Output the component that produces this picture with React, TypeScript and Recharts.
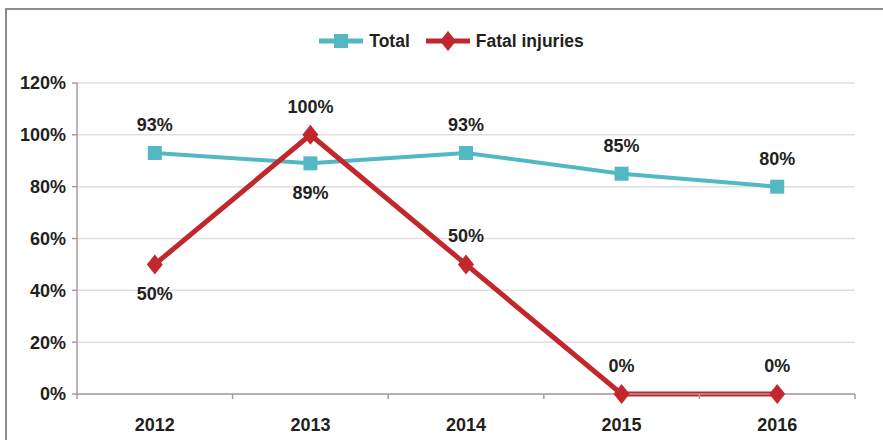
import React from "react";
import {
  LineChart,
  Line,
  XAxis,
  YAxis,
  CartesianGrid,
  Legend,
  LabelList,
} from "recharts";

const years = ["2012", "2013", "2014", "2015", "2016"];
const totalValues = [93, 89, 93, 85, 80];
const fatalValues = [50, 100, 50, 0, 0];
const yTicks = [0, 20, 40, 60, 80, 100, 120];

const totalLabelSide = ["top", "bottom", "top", "top", "top"];
const fatalLabelSide = ["bottom", "top", "top", "top", "top"];

const TEAL = "#52b8c2";
const RED = "#c1272d";
const TEXT = "#231f20";
const AXIS = "#a89e9e";
const GRID = "#e3dede";
const FONT = "'Liberation Sans', Arial, sans-serif";

const data = years.map((y, i) => ({
  year: y,
  total: totalValues[i],
  fatal: fatalValues[i],
}));

const W = 883;
const H = 440;
const X_H = 30;
const M = { top: 83, right: 28, bottom: 46 - X_H, left: 0 };
const Y_W = 77;
const BAND = (W - M.left - Y_W - M.right) / years.length;

const SquareDot = (props: any) => {
  const { cx, cy } = props;
  if (cx == null || cy == null) return null;
  return <rect x={cx - 7} y={cy - 7} width={14} height={14} fill={TEAL} />;
};

const DiamondDot = (props: any) => {
  const { cx, cy } = props;
  if (cx == null || cy == null) return null;
  return (
    <polygon
      points={`${cx},${cy - 10} ${cx + 8},${cy} ${cx},${cy + 10} ${cx - 8},${cy}`}
      fill={RED}
    />
  );
};

const makeLabel = (sides: string[]) => (props: any) => {
  const { x, y, value, index } = props;
  const side = sides[index];
  const ty = side === "top" ? y - 22 : y + 36;
  return (
    <text
      x={x}
      y={ty}
      textAnchor="middle"
      fill={TEXT}
      fontSize={18}
      fontWeight="bold"
      fontFamily={FONT}
    >
      {`${value}%`}
    </text>
  );
};

const XTick = (props: any) => {
  const { x, y, payload, index } = props;
  const isLast = index === years.length - 1;
  return (
    <g>
      <line x1={x - BAND / 2} y1={y} x2={x - BAND / 2} y2={y + 5} stroke={AXIS} strokeWidth={1.5} />
      {isLast && (
        <line x1={x + BAND / 2} y1={y} x2={x + BAND / 2} y2={y + 5} stroke={AXIS} strokeWidth={1.5} />
      )}
      <text
        x={x}
        y={y + 37}
        textAnchor="middle"
        fill={TEXT}
        fontSize={18}
        fontWeight="bold"
        fontFamily={FONT}
      >
        {payload.value}
      </text>
    </g>
  );
};

const LegendContent = () => (
  <div
    style={{
      display: "flex",
      justifyContent: "center",
      alignItems: "center",
      fontFamily: FONT,
      fontWeight: "bold",
      fontSize: 17.5,
      color: TEXT,
      paddingLeft: 20,
    }}
  >
    <svg width={44} height={20} style={{ marginRight: 6 }}>
      <line x1={0} y1={10} x2={44} y2={10} stroke={TEAL} strokeWidth={5} />
      <rect x={15} y={3} width={14} height={14} fill={TEAL} />
    </svg>
    <span style={{ marginRight: 16 }}>Total</span>
    <svg width={44} height={22} style={{ marginRight: 6 }}>
      <line x1={0} y1={11} x2={44} y2={11} stroke={RED} strokeWidth={5} />
      <polygon points="22,1 30,11 22,21 14,11" fill={RED} />
    </svg>
    <span>Fatal injuries</span>
  </div>
);

export default function App() {
  return (
    <div style={{ position: "absolute", left: 0, top: 0, width: W, height: H, background: "#fff", overflow: "hidden" }}>
      <div
        style={{
          position: "absolute",
          left: 5,
          top: 8,
          width: W - 5,
          height: H - 8,
          borderTop: "2px solid #8c8c8c",
          borderLeft: "2px solid #8c8c8c",
          boxSizing: "border-box",
        }}
      />
      <div style={{ position: "absolute", left: 0, top: 0 }}>
        <LineChart width={W} height={H} data={data} margin={M}>
          <CartesianGrid horizontal vertical={false} stroke={GRID} strokeWidth={1.5} />
          <XAxis
            dataKey="year"
            scale="band"
            axisLine={{ stroke: AXIS, strokeWidth: 1.5 }}
            tickLine={false}
            tickSize={0}
            tickMargin={0}
            tick={<XTick />}
            height={X_H}
            interval={0}
          />
          <YAxis
            width={Y_W}
            domain={[0, 120]}
            ticks={yTicks}
            interval={0}
            tickFormatter={(v: number) => `${v}%`}
            axisLine={{ stroke: AXIS, strokeWidth: 1.5 }}
            tickLine={{ stroke: AXIS, strokeWidth: 1.5 }}
            tickSize={5}
            tickMargin={6}
            tick={{ fill: TEXT, fontSize: 18, fontWeight: "bold", fontFamily: FONT }}
          />
          <Legend
            verticalAlign="middle"
            align="center"
            layout="horizontal"
            content={<LegendContent />}
            wrapperStyle={{ top: 30, left: 0, width: W }}
          />
          <Line
            type="linear"
            dataKey="total"
            name="Total"
            stroke={TEAL}
            strokeWidth={4}
            dot={<SquareDot />}
            activeDot={false}
            isAnimationActive={false}
          >
            <LabelList dataKey="total" content={makeLabel(totalLabelSide)} />
          </Line>
          <Line
            type="linear"
            dataKey="fatal"
            name="Fatal injuries"
            stroke={RED}
            strokeWidth={5}
            dot={<DiamondDot />}
            activeDot={false}
            isAnimationActive={false}
          >
            <LabelList dataKey="fatal" content={makeLabel(fatalLabelSide)} />
          </Line>
        </LineChart>
      </div>
    </div>
  );
}
